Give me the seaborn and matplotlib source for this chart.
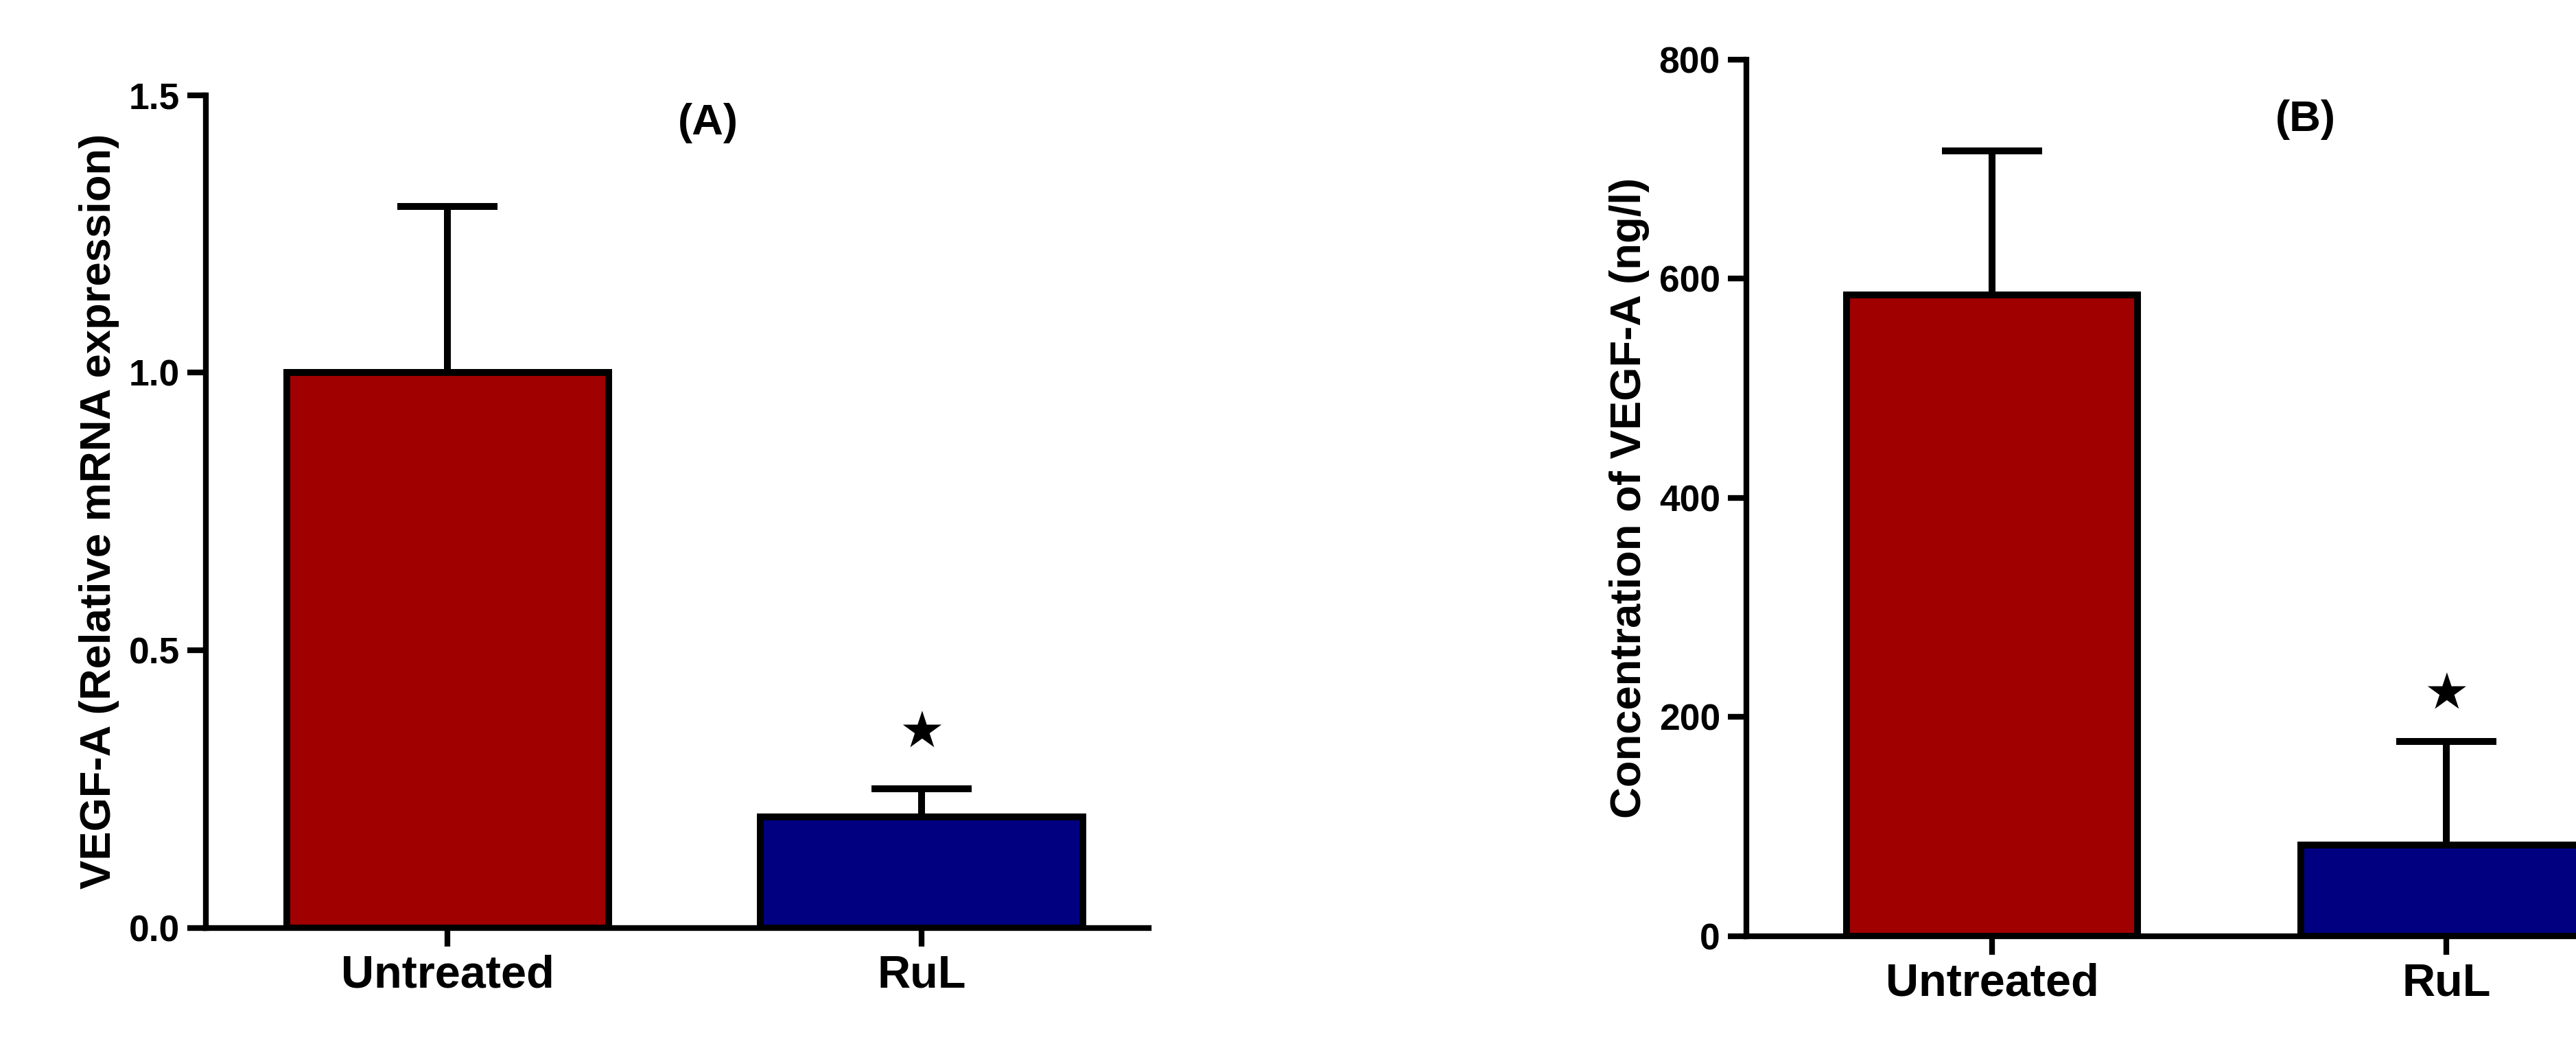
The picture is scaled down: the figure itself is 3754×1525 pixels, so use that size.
import matplotlib
matplotlib.use("Agg")
import matplotlib.pyplot as plt
import seaborn as sns
import pandas as pd

sns.set_style("ticks")
plt.rcParams['font.family'] = ['Liberation Sans', 'DejaVu Sans']
plt.rcParams['text.color'] = 'black'
plt.rcParams['axes.labelcolor'] = 'black'
plt.rcParams['xtick.color'] = 'black'
plt.rcParams['ytick.color'] = 'black'
plt.rcParams['axes.edgecolor'] = 'black'

groups = ["Untreated", "RuL"]
colors = ["#A00000", "#000080"]
mrna_mean = [1.0, 0.20]
mrna_err = [0.30, 0.05]
conc_mean = [585, 83]
conc_err = [132, 95]

fig = plt.figure(figsize=(3754/240, 1525/240), dpi=240)
axA = fig.add_axes([0.080, 0.113, 0.366, 0.796])
axB = fig.add_axes([0.678, 0.105, 0.330, 0.838])

def panel(ax, means, errs, ylim, yticks, ylabel, title, tpos, star_y, xlim, width):
    df = pd.DataFrame({"g": groups, "v": means})
    sns.barplot(data=df, x="g", y="v", hue="g", palette=colors, ax=ax, saturation=1,
                width=width, edgecolor="black", linewidth=3, legend=False, errorbar=None)
    ax.errorbar([0, 1], means, yerr=[[0, 0], errs], fmt="none", ecolor="black",
                elinewidth=3, capsize=22, capthick=3, zorder=0)
    ax.set_ylim(*ylim)
    ax.set_xlim(*xlim)
    ax.set_yticks(yticks)
    ax.set_xlabel("")
    ax.set_ylabel(ylabel, fontsize=19, fontweight="bold")
    ax.tick_params(axis="both", width=2.5, length=8)
    ax.tick_params(axis="x", labelsize=20)
    ax.tick_params(axis="y", labelsize=16)
    for lab in ax.get_xticklabels():
        lab.set_fontweight("bold")
    for lab in ax.get_yticklabels():
        lab.set_fontweight("bold")
    sns.despine(ax=ax)
    ax.spines["left"].set_linewidth(2.5)
    ax.spines["bottom"].set_linewidth(2.5)
    ax.text(tpos[0], tpos[1], title, fontsize=19, fontweight="bold", ha="center", va="center")
    ax.text(1, star_y, "★", fontsize=22, ha="center", va="center", family=["DejaVu Sans"])

panel(axA, mrna_mean, mrna_err, (0, 1.5), [0.0, 0.5, 1.0, 1.5],
      "VEGF-A (Relative mRNA expression)", "(A)", (0.55, 1.45), 0.35, (-0.51, 1.48), 0.68)
axA.set_yticklabels(["0.0", "0.5", "1.0", "1.5"])
panel(axB, conc_mean, conc_err, (0, 800), [0, 200, 400, 600, 800],
      "Concentration of VEGF-A (ng/l)", "(B)", (0.69, 745), 220, (-0.54, 1.33), 0.64)

fig.savefig("out.png", dpi=240)
